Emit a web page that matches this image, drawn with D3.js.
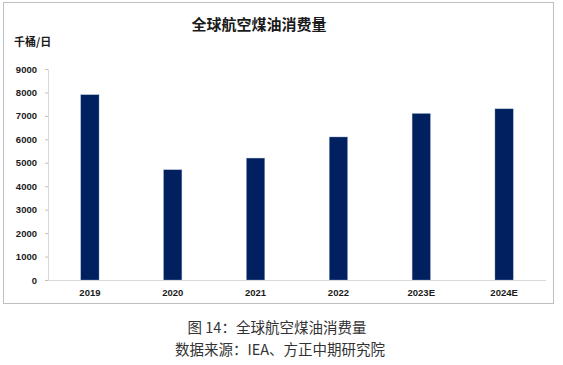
<!DOCTYPE html>
<html><head><meta charset="utf-8">
<script src="https://cdn.jsdelivr.net/npm/d3@7"></script>
<style>body{margin:0;background:#fff}svg{display:block}</style>
</head><body>
<script>
const categories = ["2019","2020","2021","2022","2023E","2024E"];
const values = [7900, 4700, 5200, 6100, 7100, 7300];
const yTicks = [0,1000,2000,3000,4000,5000,6000,7000,8000,9000];
const title = "全球航空煤油消费量";
const unitLabel = "千桶/日";
const caption1 = "图 14：全球航空煤油消费量";
const caption2 = "数据来源：IEA、方正中期研究院";

const W = 563, H = 365;
const svg = d3.select("body").append("svg").attr("width", W).attr("height", H);
const font = "'Noto Sans CJK SC', 'Liberation Sans', Arial, sans-serif";

svg.append("rect").attr("x", 3.5).attr("y", 2.5).attr("width", 550).attr("height", 301)
  .attr("fill", "#fff").attr("stroke", "#bfbfbf").attr("stroke-width", 1);

svg.append("text").attr("x", 259).attr("y", 30).attr("text-anchor", "middle")
  .attr("font-family", font).attr("font-size", 15).attr("font-weight", "bold").attr("fill", "#1a1a1a").text(title);
svg.append("text").attr("x", 14).attr("y", 46)
  .attr("font-family", font).attr("font-size", 11).attr("font-weight", "bold").attr("fill", "#1a1a1a").text(unitLabel);

const x = d3.scaleBand().domain(categories).range([48.5, 545.5]).paddingInner(0.78).paddingOuter(0.39);
const y = d3.scaleLinear().domain([0, 9000]).range([280, 69]);

// y axis
const ya = svg.append("g").attr("transform", "translate(48,0)")
  .call(d3.axisLeft(y).tickValues(yTicks).tickSize(3).tickPadding(8).tickFormat(d3.format("d")));
ya.select(".domain").attr("stroke", "#d9d9d9");
ya.selectAll(".tick line").attr("stroke", "#bfbfbf");
ya.selectAll("text").attr("font-family", "'Liberation Sans', Arial, sans-serif").attr("font-size", 9.5)
  .attr("font-weight", "bold").attr("fill", "#1a1a1a");

// bars
svg.append("g").selectAll("rect").data(values).join("rect")
  .attr("x", (d,i) => x(categories[i])).attr("width", x.bandwidth())
  .attr("y", d => y(d)).attr("height", d => y(0) - y(d))
  .attr("fill", "#002060").attr("stroke", "#8a9bc0").attr("stroke-width", 0.4);

// x axis
const xa = svg.append("g").attr("transform", "translate(0,280)")
  .call(d3.axisBottom(x).tickSize(0).tickPadding(9));
xa.select(".domain").attr("stroke", "#d9d9d9");
xa.selectAll("text").attr("font-family", "'Liberation Sans', Arial, sans-serif").attr("font-size", 9.5)
  .attr("font-weight", "bold").attr("fill", "#1a1a1a");

svg.append("text").attr("x", 277).attr("y", 333).attr("text-anchor", "middle")
  .attr("font-family", font).attr("font-size", 14.5).attr("fill", "#333").text(caption1);
svg.append("text").attr("x", 280).attr("y", 355).attr("text-anchor", "middle")
  .attr("font-family", font).attr("font-size", 14.5).attr("fill", "#333").text(caption2);
</script>
</body></html>
